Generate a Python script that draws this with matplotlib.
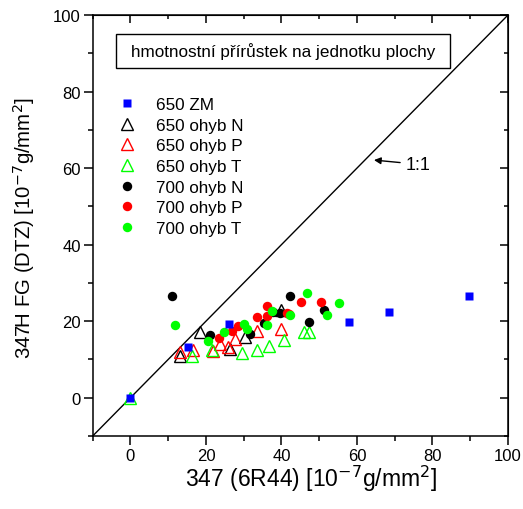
import matplotlib
matplotlib.use("Agg")
import matplotlib.pyplot as plt
from matplotlib.patches import Rectangle

plt.rcParams['font.family'] = ['Liberation Sans', 'DejaVu Sans']

# ---- data ----
zm_x = [0, 15.2, 26.1, 57.8, 68.5, 89.6]
zm_y = [0, 13.3, 19.2, 19.8, 22.3, 26.6]

n650_x = [13.1, 18.5, 26.4, 30.3, 40.0]
n650_y = [11.0, 17.1, 12.7, 15.8, 23.0]

p650_x = [13.1, 16.6, 21.9, 23.8, 25.9, 27.8, 33.5, 39.8]
p650_y = [12.0, 12.5, 12.3, 14.0, 13.2, 15.3, 17.5, 18.0]

t650_x = [0, 16.2, 21.6, 29.5, 33.5, 36.6, 40.8, 46.0, 47.3]
t650_y = [0, 11.0, 12.4, 11.8, 12.5, 13.6, 15.1, 17.2, 17.2]

n700_x = [11.1, 21.1, 31.6, 35.5, 37.8, 39.5, 42.3, 47.2, 51.3]
n700_y = [26.5, 16.4, 16.6, 19.6, 22.3, 22.1, 26.6, 19.8, 22.8]

p700_x = [23.4, 26.9, 28.6, 33.4, 36.1, 36.3, 41.5, 42.1, 45.1, 50.6]
p700_y = [15.5, 17.5, 18.8, 21.0, 21.4, 24.0, 22.1, 21.9, 24.9, 24.9]

t700_x = [11.9, 20.5, 24.7, 30.0, 30.9, 36.1, 37.6, 42.3, 46.8, 52.0, 55.2]
t700_y = [19.1, 14.9, 17.1, 19.2, 17.9, 19.1, 22.7, 21.7, 27.3, 21.7, 24.8]

line_1to1 = [-10, 100]

fig = plt.figure(figsize=(5.23, 5.10), dpi=100)
ax = fig.add_axes([0.1772, 0.1431, 0.7941, 0.8255])

ax.plot(line_1to1, line_1to1, color='black', lw=1.0, zorder=1)

tri = dict(marker='^', ms=8.3, mfc='none', mew=1.0, ls='none')
circ = dict(marker='o', ms=6.8, mec='none', ls='none')

h_n650, = ax.plot(n650_x, n650_y, color='black', label='650 ohyb N', zorder=3, **tri)
h_p650, = ax.plot(p650_x, p650_y, color='#FF0000', label='650 ohyb P', zorder=3, **tri)
h_t650, = ax.plot(t650_x, t650_y, color='#00FF00', label='650 ohyb T', zorder=3, **tri)
h_n700, = ax.plot(n700_x, n700_y, color='black', label='700 ohyb N', zorder=4, **circ)
h_p700, = ax.plot(p700_x, p700_y, color='#FF0000', label='700 ohyb P', zorder=4, **circ)
h_t700, = ax.plot(t700_x, t700_y, color='#00FF00', label='700 ohyb T', zorder=4, **circ)
h_zm, = ax.plot(zm_x, zm_y, marker='s', ms=5.3, color='#0000FF', mec='none', ls='none',
                label='650 ZM', zorder=5)

ax.set_xlim(-10, 100)
ax.set_ylim(-10, 100)
ax.set_xticks([0, 20, 40, 60, 80, 100])
ax.set_yticks([0, 20, 40, 60, 80, 100])
ax.set_xticks([-10, 10, 30, 50, 70, 90], minor=True)
ax.set_yticks([-10, 10, 30, 50, 70, 90], minor=True)

for sp in ax.spines.values():
    sp.set_linewidth(1.1)

ax.tick_params(which='major', direction='out', length=6.5, width=1.1, labelsize=12, pad=2)
ax.tick_params(which='minor', direction='out', length=3.5, width=1.1)

secx = ax.secondary_xaxis('top')
secx.set_xticks([0, 20, 40, 60, 80, 100])
secx.set_xticks([-10, 10, 30, 50, 70, 90], minor=True)
secx.tick_params(which='major', direction='in', length=6, width=1.1, labeltop=False)
secx.tick_params(which='minor', direction='in', length=3, width=1.1)
secy = ax.secondary_yaxis('right')
secy.set_yticks([0, 20, 40, 60, 80, 100])
secy.set_yticks([-10, 10, 30, 50, 70, 90], minor=True)
secy.tick_params(which='major', direction='in', length=6, width=1.1, labelright=False)
secy.tick_params(which='minor', direction='in', length=3, width=1.1)

ax.set_xlabel('347 (6R44) [10$^{-7}$g/mm$^{2}$]', fontsize=16.5, va='top')
ax.xaxis.set_label_coords(0.526, -0.064, transform=ax.transAxes)
ax.set_ylabel('347H FG (DTZ) [10$^{-7}$g/mm$^{2}$]', fontsize=14.7)
ax.yaxis.set_label_coords(-0.134, 0.497, transform=ax.transAxes)

# title box
ax.add_patch(Rectangle((0.056, 0.874), 0.804, 0.081, transform=ax.transAxes,
                       fill=False, lw=1.0, ec='black', zorder=6))
ax.text(0.458, 0.9145, 'hmotnostní přírůstek na jednotku plochy', transform=ax.transAxes,
        ha='center', va='center', fontsize=12.3, zorder=7)

leg = ax.legend(handles=[h_zm, h_n650, h_p650, h_t650, h_n700, h_p700, h_t700],
                loc='upper left', bbox_to_anchor=(0.055, 0.813), frameon=False,
                fontsize=12.3, handlelength=1.0, handletextpad=1.18,
                labelspacing=0.33, borderpad=0.2, borderaxespad=0)

ax.annotate('1:1', xy=(64.5, 62.1), xytext=(72.9, 61.0), fontsize=13,
            va='center', ha='left',
            arrowprops=dict(arrowstyle='-|>', color='black', lw=1.0,
                            mutation_scale=10, shrinkA=2, shrinkB=0))

fig.savefig('out.png', dpi=100)
